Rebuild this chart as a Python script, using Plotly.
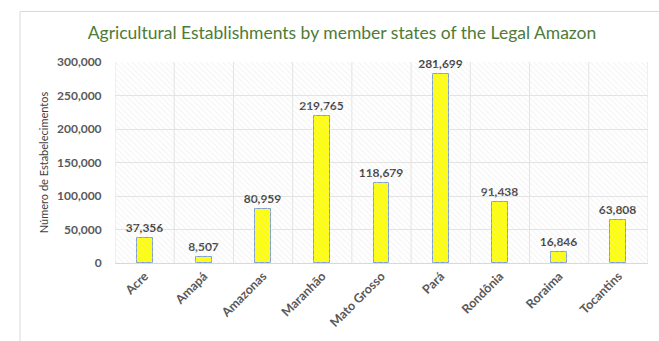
import plotly.graph_objects as go

states = ["Acre", "Amapá", "Amazonas", "Maranhão", "Mato Grosso", "Pará", "Rondônia", "Roraima", "Tocantins"]
establishments = [37356, 8507, 80959, 219765, 118679, 281699, 91438, 16846, 63808]

W, H = 659, 341
L, R, T, B = 115, 11, 62, 76
pw, ph = W - L - R, H - T - B

fig = go.Figure()

# hatched background of the plot area
fig.add_trace(go.Bar(
    x=[0.5], y=[300000], width=[1], xaxis="x2", yaxis="y",
    marker=dict(color="rgba(0,0,0,0)", line=dict(width=0),
                pattern=dict(shape="\\", fgcolor="#e6e6e6", bgcolor="rgba(0,0,0,0)",
                             size=4, solidity=0.25, fillmode="overlay")),
    hoverinfo="skip", showlegend=False,
))

fig.add_trace(go.Bar(
    x=states, y=establishments, width=0.27,
    marker=dict(color="#ffff00", line=dict(color="#7d9fd0", width=1)),
    text=[f"{v:,}" for v in establishments], textposition="outside",
    constraintext="none",
    textfont=dict(family="Lato", size=12, color="#404040", weight="bold"),
    cliponaxis=False, showlegend=False,
))

fig.update_layout(
    width=W, height=H,
    margin=dict(l=L, r=R, t=T, b=B),
    paper_bgcolor="white", plot_bgcolor="white",
    title=dict(text="Agricultural Establishments by member states of the Legal Amazon",
               x=(342) / W, xanchor="center", y=1 - 33 / H, yanchor="middle",
               font=dict(family="Lato", size=17.5, color="#4e7b38")),
    xaxis=dict(type="category", tickangle=-45, showgrid=False,
               tickfont=dict(family="Lato", size=12.5, color="#595959", weight="bold"),
               showline=True, linecolor="#d9d9d9", ticks=""),
    xaxis2=dict(overlaying="x", range=[0, 1], visible=False),
    yaxis=dict(range=[0, 300000], dtick=50000, tickformat=",",
               ticks="outside", ticklen=10, tickcolor="rgba(0,0,0,0)",
               tickfont=dict(family="Lato", size=12, color="#595959", weight="bold"),
               gridcolor="#e3e3e3", zeroline=False, showline=False,
               title=dict(text="Número de Estabelecimentos", standoff=6,
                          font=dict(family="Lato", size=11, color="#404040"))),
    bargap=0,
    shapes=[
        dict(type="rect", xref="paper", yref="paper",
             x0=(20 - L) / pw, x1=(W + 10 - L) / pw,
             y0=(H - B - (H + 10)) / ph, y1=(H - B - 11) / ph,
             line=dict(color="#d9d9d9", width=1), fillcolor="rgba(0,0,0,0)", layer="below"),
    ] + [
        dict(type="line", xref="x2", yref="paper", x0=i / 9, x1=i / 9, y0=0, y1=1,
             line=dict(color="#e3e3e3", width=1), layer="below")
        for i in range(10)
    ],
)

fig.write_html("out.html")
